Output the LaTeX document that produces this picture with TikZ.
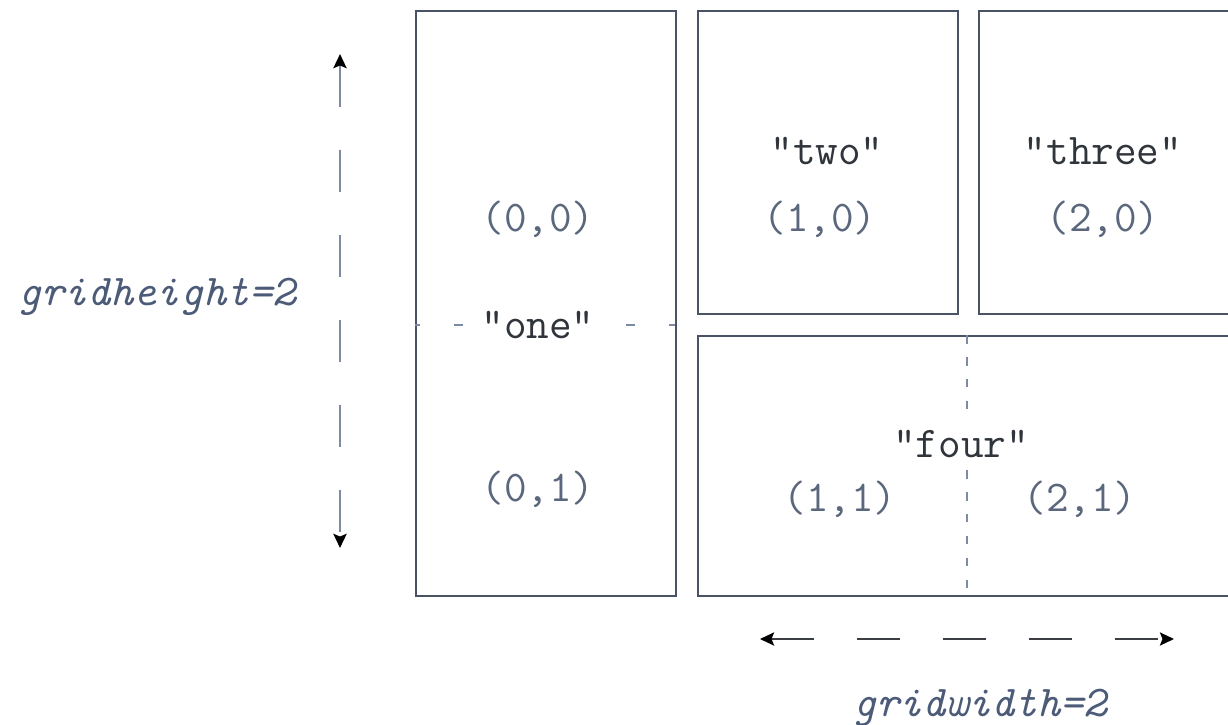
\documentclass[tikz,border=0pt]{standalone}
\usepackage{fontspec}
\usetikzlibrary{arrows.meta}
\definecolor{gbLine}{HTML}{4A5363}
\definecolor{gbSoft}{HTML}{7C8AA3}
\definecolor{gbDark}{HTML}{3A3D42}
\definecolor{gbName}{HTML}{30353C}
\definecolor{gbCoord}{HTML}{5A677C}
\definecolor{gbNote}{HTML}{4C5B78}
\newcommand{\gbfont}{\ttfamily\fontsize{25}{29}\selectfont}
\tikzset{
  gbcell/.style={draw=gbLine, line width=1.3pt, anchor=north west, inner sep=0pt},
  gbname/.style={font=\gbfont, text=gbName},
  gbcoord/.style={font=\gbfont, text=gbCoord},
  gbnote/.style={font=\gbfont\itshape, text=gbNote},
  gbcut/.style={gbSoft, line width=1.1pt, dash pattern=on 0.18cm off 0.68cm, dash phase=0.08cm},
  gbsplit/.style={gbSoft, line width=1pt, dash pattern=on 0.17cm off 0.27cm},
  gbtip/.style={Stealth[length=0.28cm, width=0.26cm, inset=0.05cm, black]},
  gbvspan/.style={{Stealth[length=0.28cm, width=0.26cm, inset=0.05cm, black]}-{Stealth[length=0.28cm, width=0.26cm, inset=0.05cm, black]},
    gbSoft, line width=1.7pt, dash pattern=on 0.85cm off 0.85cm},
  gbhspan/.style={{Stealth[length=0.28cm, width=0.26cm, inset=0.05cm, black]}-{Stealth[length=0.28cm, width=0.26cm, inset=0.05cm, black]},
    gbDark, line width=1.4pt, dash pattern=on 0.86cm off 0.86cm}
}
\begin{document}
\begin{tikzpicture}[x=0.02cm, y=-0.02cm]
  \clip (0,0) rectangle (1228,724);
  \fill[white] (0,0) rectangle (1228,724);

  % grid cells
  \node[gbcell, minimum width=5.2cm, minimum height=11.7cm] (one) at (415,10) {};
  \node[gbcell, minimum width=5.2cm, minimum height=6.06cm] (two) at (697,10) {};
  \node[gbcell, minimum width=6.4cm, minimum height=6.06cm] (three) at (978,10) {};
  \node[gbcell, minimum width=12.1cm, minimum height=5.2cm] (four) at (697,335) {};

  % cell "one"
  \coordinate (onecutL) at (415,325);
  \coordinate (onecutR) at (675,325);
  \draw[gbcut] (onecutL) -- (onecutR);
  \node[gbcoord] (onetop) at (538,219) {(0,0)};
  \node[gbname, fill=white] (onename) at (538,325) {"one"};
  \node[gbcoord] (onebot) at (538,489) {(0,1)};

  % cells "two" and "three"
  \node[gbname] (twoname) at (827,151) {"two"};
  \node[gbcoord] (twocoord) at (820,219) {(1,0)};
  \node[gbname] (threename) at (1103,151) {"three"};
  \node[gbcoord] (threecoord) at (1103,219) {(2,0)};

  % cell "four"
  \coordinate (splitT) at (967,335);
  \coordinate (splitA) at (967,412);
  \coordinate (splitB) at (967,470);
  \coordinate (splitE) at (967,595);
  \draw[gbsplit] (splitT) -- (splitA);
  \draw[gbsplit] (splitB) -- (splitE);
  \node[gbname] (fourname) at (961,444) {"four"};
  \node[gbcoord] (fourleft) at (840,499) {(1,1)};
  \node[gbcoord] (fourright) at (1080,499) {(2,1)};

  % spans
  \coordinate (vtop) at (340,54);
  \coordinate (vbot) at (340,548);
  \draw[gbvspan] (vtop) -- (vbot);
  \node[gbnote] (hnote) at (157,297) {gridheight=2};
  \coordinate (hleft) at (760,639);
  \coordinate (hright) at (1174,639);
  \draw[gbhspan] (hleft) -- (hright);
  \node[gbnote] (wnote) at (980,708) {gridwidth=2};
\end{tikzpicture}
\end{document}
